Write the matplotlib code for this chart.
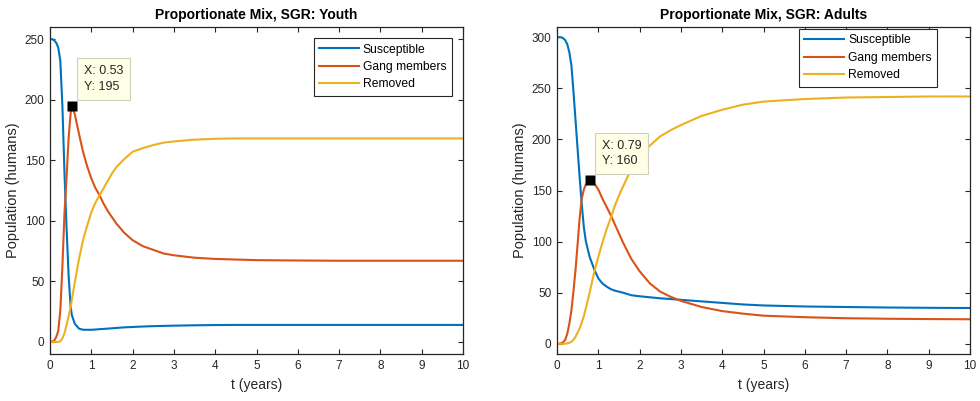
import matplotlib
matplotlib.use("Agg")
import matplotlib.pyplot as plt
import numpy as np

plt.rcParams['font.family'] = ['Liberation Sans', 'DejaVu Sans']

labels = ['Susceptible', 'Gang members', 'Removed']
colors = ['#0072BD', '#D95319', '#EDB120']

# Youth panel
t_youth = [0, 0.05, 0.1, 0.15, 0.2, 0.25, 0.3, 0.35, 0.4, 0.45, 0.5, 0.53, 0.6, 0.7, 0.8,
           0.9, 1.0, 1.1, 1.2, 1.3, 1.4, 1.5, 1.6, 1.8, 2.0, 2.25, 2.5, 2.75, 3.0, 3.5,
           4.0, 4.5, 5, 6, 7, 8, 9, 10]
s_youth = [250, 250, 249, 247, 243, 232, 195, 140, 95, 55, 29, 22, 15, 11, 10,
           10, 10, 10.2, 10.5, 10.7, 11, 11.2, 11.5, 12, 12.3, 12.7, 13, 13.2, 13.4, 13.7,
           13.9, 14, 14, 14, 14, 14, 14, 14]
g_youth = [0, 0.2, 1, 4, 9, 26, 62, 106, 135, 168, 189, 195, 188, 172, 157,
           145, 135, 127, 121, 114, 108, 103, 98, 90, 84, 79, 76, 73, 71.5, 69.5,
           68.5, 68, 67.5, 67.2, 67, 67, 67, 67]
r_youth = [0, 0, 0, 0, 0, 0.5, 3, 7, 14, 21, 29, 35, 49, 68, 84,
           96, 107, 115, 121, 127, 133, 139, 144, 151, 157, 160, 162.5, 164.5, 165.5, 167,
           167.7, 168, 168, 168, 168, 168, 168, 168]

# Adults panel
t_adults = [0, 0.05, 0.1, 0.15, 0.2, 0.25, 0.3, 0.35, 0.4, 0.45, 0.5, 0.55, 0.6, 0.65, 0.7,
            0.79, 0.9, 1.0, 1.1, 1.2, 1.3, 1.4, 1.5, 1.6, 1.8, 2.0, 2.25, 2.5, 2.75, 3.0,
            3.5, 4.0, 4.5, 5, 6, 7, 8, 9, 10]
s_adults = [300, 300, 300, 299, 297, 293, 285, 272, 246, 218, 190, 162, 136, 114, 100,
            85, 73, 64, 59, 56, 53.5, 52, 51, 50, 47.5, 46.5, 45.5, 44.5, 43.8, 43,
            41.5, 40, 38.5, 37.5, 36.5, 36, 35.5, 35.2, 35]
g_adults = [0, 0, 0.5, 1.5, 4, 10, 20, 33, 52, 73, 98, 124, 142, 151, 156,
            160, 157, 151, 142, 134, 126, 117, 108, 99, 83, 71, 59, 51, 46, 42,
            36, 32, 29.5, 27.5, 26, 25, 24.5, 24.2, 24]
r_adults = [0, 0, 0, 0, 0, 0.5, 1, 2, 4, 7, 11, 15, 21, 27, 35,
            50, 70, 85, 99, 112, 123, 135, 145, 154, 171, 183, 194, 203, 209, 214,
            223, 229, 234, 237, 239.5, 241, 241.5, 242, 242]

panels = [
    ("Proportionate Mix, SGR: Youth", t_youth, [s_youth, g_youth, r_youth],
     (0.53, 195), (-10, 260), np.arange(0, 251, 50), (0.973, 0.966)),
    ("Proportionate Mix, SGR: Adults", t_adults, [s_adults, g_adults, r_adults],
     (0.79, 160), (-10, 310), np.arange(0, 301, 50), (0.92, 0.994)),
]

fig = plt.figure(figsize=(9.8, 4.01), dpi=100)
lefts = [50 / 980, 557 / 980]
dark = '#262626'

for left, (title, t, series, tip, ylim, yticks, leg_anchor) in zip(lefts, panels):
    ax = fig.add_axes([left, 47 / 401, 413 / 980, 327 / 401])
    for vals, lab, col in zip(series, labels, colors):
        ax.plot(t, vals, color=col, lw=1.5, label=lab)
    ax.set_xlim(0, 10)
    ax.set_ylim(*ylim)
    ax.set_xticks(range(0, 11))
    ax.set_yticks(yticks)
    ax.tick_params(direction='in', top=True, right=True, length=3.5, width=0.8,
                   labelsize=8.5, colors=dark, labelcolor=dark, pad=4)
    for sp in ax.spines.values():
        sp.set_color(dark)
        sp.set_linewidth(0.9)
    ax.set_title(title, fontsize=10, fontweight='bold', color='black', pad=6)
    ax.set_xlabel('t (years)', fontsize=10, color=dark, labelpad=5)
    ax.set_ylabel('Population (humans)', fontsize=10.5, color=dark, labelpad=3)

    leg = ax.legend(loc='upper right', bbox_to_anchor=leg_anchor, fontsize=8.7,
                    fancybox=False, edgecolor=dark, framealpha=1,
                    handlelength=3.3, handletextpad=0.3, borderpad=0.45,
                    labelspacing=0.45, borderaxespad=0)
    leg.get_frame().set_linewidth(0.8)

    # data tip
    ax.plot([tip[0]], [tip[1]], linestyle='none', marker='s', color='black',
            mec='none', ms=7.5, zorder=5)
    ax.annotate(f"X: {tip[0]}\nY: {tip[1]}", xy=tip, xytext=(12, 13),
                textcoords='offset pixels', ha='left', va='bottom', fontsize=9,
                color=dark, linespacing=1.4,
                bbox=dict(boxstyle='square,pad=0.55', fc='#FFFFE6', ec='#D0D0C0', lw=0.8),
                zorder=6)

fig.savefig('out.png', dpi=100)
